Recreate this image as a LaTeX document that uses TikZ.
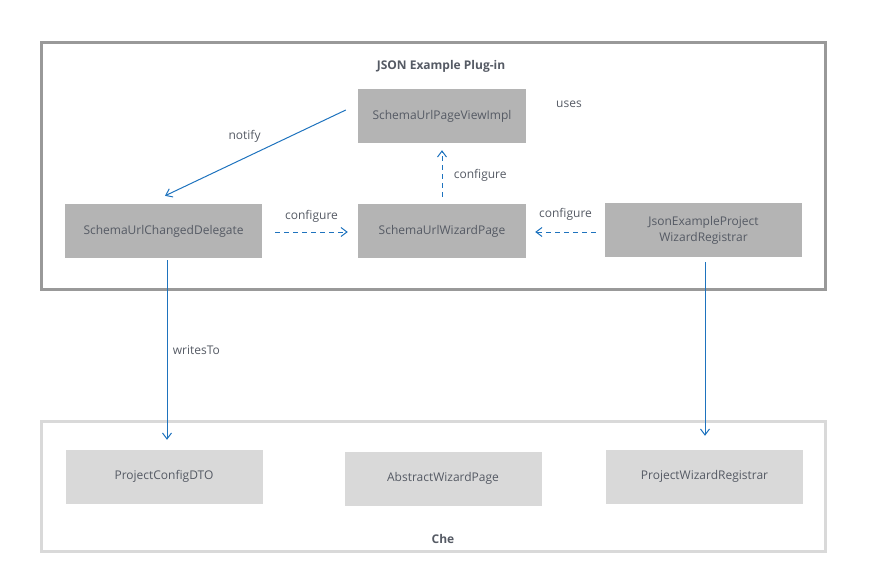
\documentclass[tikz,border=0pt]{standalone}
\usepackage{fontspec}
\setmainfont{Open Sans}
\usetikzlibrary{arrows.meta,positioning}
\definecolor{linkblue}{RGB}{30,115,190}
\definecolor{txtgray}{RGB}{85,90,100}
\definecolor{darkbox}{RGB}{180,180,180}
\definecolor{lightbox}{RGB}{217,217,217}
\definecolor{frameplug}{RGB}{153,153,153}
\tikzset{
  cls/.style={rectangle, fill=darkbox, minimum width=197pt, minimum height=54pt, inner sep=0pt, text=txtgray, font=\fontsize{12}{16}\selectfont, align=center},
  base/.style={cls, fill=lightbox},
  lbl/.style={text=txtgray, font=\fontsize{12}{15}\selectfont},
  link/.style={draw=linkblue, line width=1pt, -{Straight Barb[length=6pt,width=9pt]}},
  dep/.style={link, dashed, dash pattern=on 5pt off 4pt}
}
\begin{document}
\begin{tikzpicture}[x=1pt,y=-1pt]
    \useasboundingbox (0,0) rectangle (882,579);
    % package frames
    \draw[frameplug, line width=3pt] (41,42) rectangle (825,289);
    \draw[lightbox, line width=3pt] (41,421) rectangle (825,551);
    \node[lbl, font=\fontsize{12}{15}\selectfont\bfseries] (plugin) at (441,66) {JSON Example Plug-in};
    \node[lbl, font=\fontsize{12}{15}\selectfont\bfseries] (che) at (443,539) {Che};

    % plug-in classes
    \node[cls, minimum width=168pt] (view) at (442,116) {SchemaUrlPageViewImpl};
    \node[cls] (delegate) at (163.5,231) {SchemaUrlChangedDelegate};
    \node[cls, minimum width=168pt] (page) at (442,231) {SchemaUrlWizardPage};
    \node[cls] (registrar) at (703.5,230) {JsonExampleProject\\WizardRegistrar};
    \node[lbl] (uses) at (569,104) {uses};

    % che classes
    \node[base] (dto) at (164,476.5) {ProjectConfigDTO};
    \node[base] (abstract) at (443,478.5) {AbstractWizardPage};
    \node[base] (projreg) at (704.5,476.5) {ProjectWizardRegistrar};

    % connectors
    \draw[link] ([xshift=-12pt,yshift=6pt]view.west) -- ([xshift=1.5pt,yshift=8pt]delegate.north) node[lbl, midway, above left=7pt and -9pt] {notify};
    \draw[dep] ([xshift=13pt,yshift=-1pt]delegate.east) -- ([xshift=-10pt,yshift=-1pt]page.west) node[lbl, midway, above=6pt] {configure};
    \draw[dep] ([yshift=7pt]page.north) -- ([yshift=-7pt]view.south) node[lbl, midway, right=8pt, yshift=-2pt] {configure};
    \draw[dep] ([xshift=-9pt,yshift=-2pt]registrar.west) -- ([xshift=9pt,yshift=-1pt]page.east) node[lbl, midway, above=8pt] {configure};
    \draw[link] ([xshift=3.5pt,yshift=-2pt]delegate.south) -- ([xshift=3pt,yshift=9.5pt]dto.north) node[lbl, midway, right=2pt] {writesTo};
    \draw[link] ([xshift=1.5pt,yshift=-5pt]registrar.south) -- ([xshift=0.5pt,yshift=13.5pt]projreg.north);
\end{tikzpicture}
\end{document}
